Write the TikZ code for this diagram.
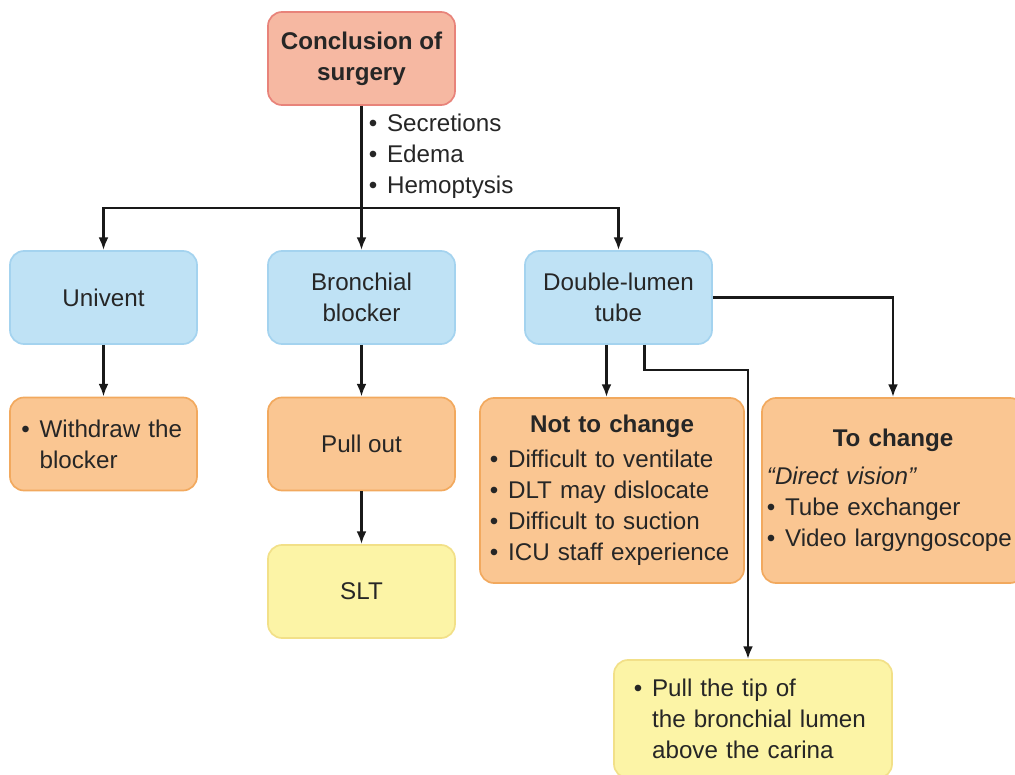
\documentclass[tikz,border=0pt]{standalone}
\usepackage{fontspec}
\setmainfont{Liberation Sans}
\usetikzlibrary{arrows.meta}
\definecolor{redfill}{HTML}{F6B8A2}
\definecolor{redline}{HTML}{E8837A}
\definecolor{bluefill}{HTML}{BFE2F5}
\definecolor{blueline}{HTML}{A4D3EF}
\definecolor{orangefill}{HTML}{FAC692}
\definecolor{orangeline}{HTML}{F2A95E}
\definecolor{yellowfill}{HTML}{FCF4A6}
\definecolor{yellowline}{HTML}{F2E088}
\newcommand{\fs}{\fontsize{17.2}{22}\selectfont}
\newcommand{\bl}{\makebox[0.75em][l]{\textbullet}}
\tikzset{
  box/.style={draw, rounded corners=10pt, line width=1.2pt, minimum width=4.675cm,
    minimum height=2.325cm, align=center, font=\fs, text=black!85},
  redbox/.style={box, fill=redfill, draw=redline},
  bluebox/.style={box, fill=bluefill, draw=blueline},
  orangebox/.style={box, fill=orangefill, draw=orangeline},
  yellowbox/.style={box, fill=yellowfill, draw=yellowline},
  arr/.style={line width=2pt, black!90, -{Latex[width=7pt,length=9pt]}},
  link/.style={line width=2pt, black!90}
}
\begin{document}
\begin{tikzpicture}[x=0.025cm,y=-0.025cm]
    \useasboundingbox (0,0) rectangle (1015,775);
    % Top
    \node[redbox] (top) at (361.5,58.5) {\bfseries Conclusion of\\\bfseries surgery};
    \node[anchor=west, align=left, font=\fs, text=black!85] (causes) at (364,156)
        {\bl Secretions\\ \bl Edema\\ \bl Hemoptysis};
    \coordinate (split) at (361.5,208);
    % Devices
    \node[bluebox] (univ) at (103.5,297.5) {Univent};
    \node[bluebox] (bb) at (361.5,297.5) {Bronchial\\blocker};
    \node[bluebox] (dlt) at (618.5,297.5) {Double-lumen\\tube};
    % Actions
    \node[orangebox, align=left, text width=4.1cm, inner xsep=0.2875cm] (withdraw) at (103.5,444)
        {\bl Withdraw the\\\hspace*{0.75em}blocker};
    \node[orangebox] (pull) at (361.5,444) {Pull out};
    \node[yellowbox] (slt) at (361.5,591.5) {SLT};
    \node[orangebox, align=left, text width=6.1cm, inner xsep=0.25cm, minimum width=6.6cm,
        minimum height=4.625cm] (keep) at (612,490.5)
        {{\centering\bfseries Not to change\par}\vspace{3pt}
         \bl Difficult to ventilate\\ \bl DLT may dislocate\\
         \bl Difficult to suction\\ \bl ICU staff experience};
    \node[orangebox, align=left, text width=6.3cm, inner xsep=0.125cm, minimum width=6.55cm,
        minimum height=4.625cm] (swap) at (893,490.5)
        {{\centering\bfseries To change\par}\vspace{5pt}
         \textit{``Direct vision''}\\ \bl Tube exchanger\\ \bl Video largyngoscope};
    \node[yellowbox, align=left, text width=5.95cm, inner xsep=0.5cm, minimum width=6.95cm,
        minimum height=2.95cm] (tip) at (753,719)
        {\bl Pull the tip of\\\hspace*{0.75em}the bronchial lumen\\\hspace*{0.75em}above the carina};
    \coordinate (bend) at (748,370);
    % Connectors
    \draw[link] (top) -- (split);
    \draw[arr] (split) -| (univ.north);
    \draw[arr] (split) -- (bb.north);
    \draw[arr] (split) -| (dlt.north);
    \draw[arr] (univ) -- (withdraw);
    \draw[arr] (bb) -- (pull);
    \draw[arr] (pull) -- (slt);
    \draw[arr] ([xshift=-0.3cm]dlt.south) -- ([xshift=-0.3cm]dlt.south |- keep.north);
    \draw[arr] ([xshift=0.65cm]dlt.south) |- (bend) -- (bend |- tip.north);
    \draw[arr] (dlt.east) -| (swap.north);
\end{tikzpicture}
\end{document}
